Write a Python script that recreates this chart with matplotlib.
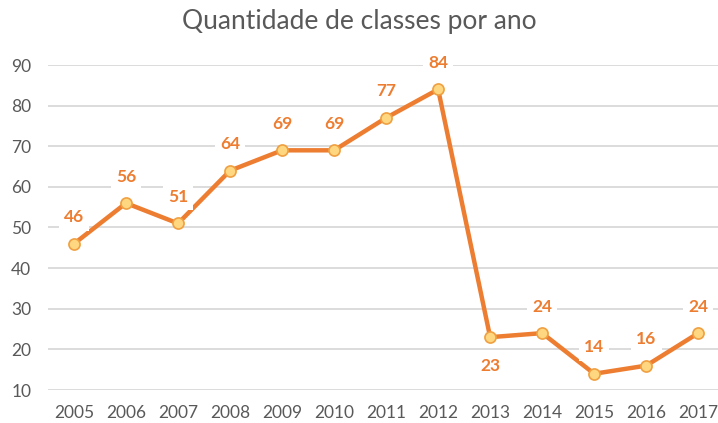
import matplotlib
matplotlib.use("Agg")
import matplotlib.pyplot as plt

# dados
anos = ['2005', '2006', '2007', '2008', '2009', '2010', '2011', '2012',
        '2013', '2014', '2015', '2016', '2017']
classes = [46, 56, 51, 64, 69, 69, 77, 84, 23, 24, 14, 16, 24]
y_ticks = [10, 20, 30, 40, 50, 60, 70, 80, 90]

plt.rcParams['font.family'] = ['Lato', 'DejaVu Sans']

laranja = '#ED7D31'
cinza = '#595959'

fig = plt.figure(figsize=(7.18, 4.23), dpi=100)
ax = fig.add_axes([48 / 718, 33 / 423, 670 / 718, 325 / 423])

x = list(range(len(anos)))
ax.plot(x, classes, color=laranja, linewidth=3.2, marker='o', markersize=8,
        markerfacecolor='#FFD780', markeredgecolor='#F0A040', markeredgewidth=1.2,
        zorder=3, clip_on=False)

for i, v in enumerate(classes):
    dy = -21 if anos[i] == '2013' else 19
    ax.annotate(str(v), (i, v), xytext=(0, dy), textcoords='offset points',
                ha='center', va='center', color=laranja, fontsize=12.5, fontweight='bold',
                bbox=dict(boxstyle='square,pad=0.3', fc='white', ec='none'), zorder=4)

ax.set_xlim(-0.5, 12.38)
ax.set_ylim(10, 90)
ax.set_xticks(x)
ax.set_xticklabels(anos)
ax.set_yticks(y_ticks)
ax.yaxis.grid(True, color='#D9D9D9', linewidth=1.3)
ax.set_axisbelow(True)
for s in ax.spines.values():
    s.set_visible(False)
ax.tick_params(length=0, colors=cinza, labelsize=12.5)
ax.tick_params(axis='x', pad=11)
ax.tick_params(axis='y', pad=12)

fig.text(0.5, 0.948, 'Quantidade de classes por ano', ha='center', va='center',
         fontsize=19, color=cinza)

fig.savefig('out.png', dpi=100)
